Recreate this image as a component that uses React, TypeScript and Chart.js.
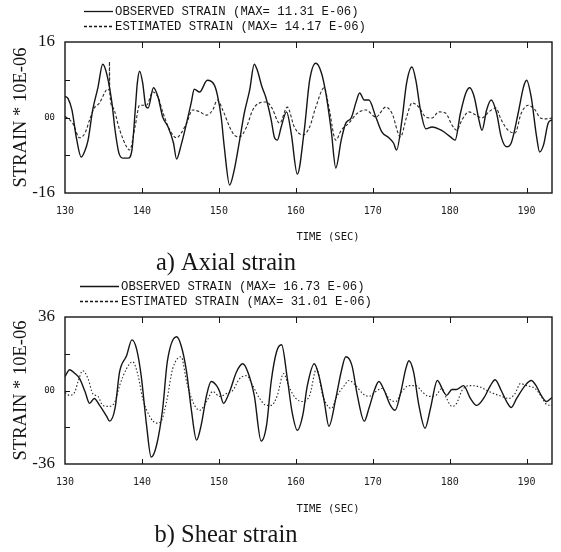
import React, { useEffect, useRef } from "react";
import { Chart, registerables } from "chart.js";

Chart.register(...registerables);

// ---------- data ----------
const timeTicks = [130, 140, 150, 160, 170, 180, 190];
const timeMin = 130;
const timeMax = 193.3;

const axialObservedTime = [130.0, 130.4, 130.9, 131.5, 132.1, 132.6, 133.0, 133.6, 134.3, 134.9, 135.4, 136.1, 136.5, 137.0, 137.5, 138.2, 138.7, 139.1, 139.4, 139.7, 140.1, 140.5, 140.8, 141.5, 142.1, 142.7, 143.4, 144.1, 144.5, 145.1, 145.8, 146.4, 146.8, 147.5, 148.5, 149.4, 149.8, 150.3, 150.7, 151.4, 152.0, 152.7, 153.3, 154.0, 154.6, 155.0, 155.6, 156.1, 156.8, 157.2, 157.6, 158.1, 158.8, 159.4, 160.2, 161.1, 161.8, 162.6, 163.3, 163.9, 164.6, 165.2, 165.9, 166.5, 167.2, 167.8, 168.3, 168.9, 169.5, 170.4, 171.2, 172.1, 172.7, 173.1, 173.8, 174.4, 175.1, 175.6, 176.2, 176.9, 177.7, 178.9, 180.1, 180.7, 181.4, 182.1, 182.6, 183.2, 183.8, 184.2, 184.8, 185.4, 186.1, 186.7, 187.4, 188.0, 188.9, 189.6, 190.0, 190.6, 191.3, 191.7, 192.2, 192.8, 193.3];
const axialObservedStrain = [4.5, 4.0, 1.6, -4.5, -8.4, -7.0, -4.8, 1.6, 6.5, 11.3, 9.4, 3.1, -2.6, -7.5, -8.6, -8.6, -6.9, 0.9, 7.3, 9.8, 7.3, 2.4, 2.0, 6.3, 4.3, 0.1, -2.0, -5.4, -8.8, -5.8, -1.2, 3.1, 6.0, 5.4, 7.9, 6.9, 4.8, 0.1, -6.2, -14.3, -11.1, -4.8, 0.9, 5.8, 11.3, 10.0, 6.5, 4.3, -0.5, -4.1, -4.8, -2.0, 1.2, -3.3, -12.0, -2.7, 7.9, 11.5, 9.6, 5.2, -2.7, -10.7, -4.8, -1.2, -0.1, 3.1, 5.2, 3.7, 3.7, 0.1, -3.1, -4.3, -5.4, -6.9, -0.5, 7.3, 10.7, 7.9, 1.6, -2.4, -2.0, -2.7, -4.1, -4.8, 0.9, 5.2, 6.3, 4.3, -0.5, -2.7, 1.6, 3.7, 0.9, -4.1, -6.2, -5.4, 0.9, 6.5, 7.9, 4.3, -4.1, -7.3, -5.8, -1.2, -0.5];

const axialEstimatedTime = [130.0, 130.3, 131.0, 131.9, 132.6, 133.2, 133.8, 134.5, 135.2, 135.5, 135.75, 135.78, 135.81, 136.2, 137.1, 138.0, 138.4, 139.1, 139.7, 140.6, 141.4, 142.1, 142.7, 143.6, 144.5, 145.1, 145.8, 146.6, 147.5, 148.4, 149.2, 149.8, 150.5, 151.4, 152.0, 152.7, 153.6, 154.4, 155.3, 156.2, 156.9, 157.9, 158.9, 159.8, 160.9, 161.8, 162.6, 163.7, 164.3, 165.2, 165.9, 166.9, 168.0, 169.1, 170.4, 171.7, 172.5, 173.6, 174.4, 175.1, 176.0, 176.9, 177.7, 178.6, 179.5, 180.3, 180.9, 181.6, 182.5, 183.4, 184.2, 185.1, 186.0, 186.7, 187.6, 188.5, 189.3, 190.2, 191.1, 191.8, 192.5, 193.3];
const axialEstimatedStrain = [0.2, -0.1, -1.2, -4.3, -3.3, -0.5, 2.0, 3.1, 5.4, 6.0, 5.8, 11.8, 5.6, 2.2, -2.6, -6.2, -6.9, -2.0, 2.6, 2.6, 5.4, 4.3, 1.2, -2.6, -4.3, -3.3, -1.2, 1.6, 1.2, 0.5, 1.6, 3.7, 1.6, -2.0, -3.7, -4.1, -2.0, 1.6, 3.1, 3.3, 2.0, -1.2, 2.2, -2.0, -3.7, -2.0, 2.2, 6.3, 2.2, -4.8, -2.7, -1.2, 0.9, 1.6, 0.1, 2.2, 0.9, -4.1, 0.1, 3.1, 2.2, 0.1, -0.1, 1.2, 0.9, -1.6, -2.7, -0.5, 1.2, 0.5, -0.1, 1.2, 2.0, -0.5, -2.7, -3.3, 0.9, 2.6, 1.6, -0.1, -0.3, -0.1];

const shearObservedTime = [130.0, 130.6, 131.3, 131.9, 132.6, 133.2, 133.8, 134.5, 135.4, 135.8, 136.5, 137.1, 138.0, 138.7, 139.3, 139.9, 140.6, 141.2, 141.9, 142.7, 143.3, 144.5, 145.1, 145.8, 146.4, 147.1, 147.7, 148.4, 149.0, 149.7, 150.1, 150.6, 151.4, 152.3, 153.1, 153.7, 154.6, 155.5, 156.2, 156.8, 157.5, 158.15, 158.9, 159.5, 160.2, 160.9, 161.5, 162.4, 163.0, 163.7, 164.3, 165.2, 165.9, 166.5, 167.3, 168.0, 168.9, 169.5, 170.3, 170.8, 171.5, 172.3, 172.9, 173.6, 174.3, 174.7, 175.3, 176.0, 176.8, 177.5, 178.4, 179.2, 179.6, 180.3, 180.9, 181.8, 182.7, 183.5, 184.4, 185.3, 185.9, 186.7, 187.4, 188.0, 188.7, 189.8, 190.6, 191.3, 191.9, 192.6, 193.3];
const shearObservedStrain = [6.8, 10.2, 8.3, 5.8, -0.5, -6.3, -3.9, -7.3, -12.6, -15.0, -8.8, 9.2, 17.0, 24.8, 20.4, 7.3, -17.0, -32.6, -26.8, -8.8, 14.1, 26.3, 21.9, 9.2, -8.8, -24.3, -17.0, -2.4, 4.4, 2.4, -0.5, -6.3, -0.5, 9.2, 13.1, 9.7, -2.4, -24.8, -17.0, 4.4, 19.0, 22.4, 5.8, -10.2, -19.5, -12.2, 2.4, 13.1, 7.3, -5.4, -17.5, -3.9, 9.2, 16.5, 12.2, -2.4, -15.0, -8.8, 1.0, 4.4, 0.0, -7.3, -9.7, -1.5, 10.7, 14.6, 9.2, -7.3, -18.5, -8.8, 4.9, -0.5, -2.4, 0.5, 0.5, 2.4, -3.9, -7.3, -3.9, 2.4, 5.3, 0.0, -5.4, -8.3, -3.9, 2.4, 4.9, 1.9, -2.4, -5.4, -3.4];

const shearEstimatedTime = [130.0, 130.6, 131.3, 131.7, 132.3, 133.0, 133.6, 134.3, 134.9, 135.8, 136.5, 137.1, 138.0, 138.8, 139.5, 140.1, 141.0, 141.9, 142.5, 143.2, 144.0, 145.1, 145.8, 146.6, 147.5, 148.4, 149.2, 150.1, 151.0, 151.8, 152.7, 153.6, 154.4, 155.3, 156.2, 156.8, 157.6, 158.4, 159.1, 160.0, 160.9, 161.8, 162.7, 163.5, 164.6, 165.4, 166.3, 166.9, 167.8, 168.7, 169.5, 170.4, 171.2, 172.1, 173.0, 173.8, 174.7, 175.6, 176.4, 177.3, 178.2, 179.0, 179.6, 180.3, 180.9, 181.6, 182.5, 183.8, 185.1, 186.4, 187.7, 188.5, 189.2, 190.0, 191.1, 191.9, 192.6, 193.3];
const shearEstimatedStrain = [-1.0, -2.4, -0.5, 4.4, 9.7, 5.8, -1.5, -2.9, -7.3, -7.8, -5.4, 2.4, 10.7, 14.1, 7.3, -3.9, -12.6, -16.0, -15.0, -5.4, 10.7, 16.5, 4.4, -5.4, -9.7, -5.4, -0.5, -2.9, -1.5, 0.0, 5.8, 7.3, 2.4, -3.9, -7.3, -7.3, -2.4, 8.3, 1.9, -3.9, -5.4, -2.4, 10.7, -2.4, -8.8, -2.4, 2.4, 4.9, 2.4, -1.5, -2.9, -0.5, 1.0, -3.9, -5.4, -0.5, 2.4, 2.4, -0.5, -2.9, -2.4, 1.0, -3.9, -7.8, -6.3, 0.0, 2.4, 1.9, -0.5, -2.4, -3.9, -1.5, 3.4, 2.4, 1.0, -2.9, -6.8, -7.3];

const axialLegend = ["OBSERVED STRAIN (MAX= 11.31 E-06)", "ESTIMATED STRAIN (MAX= 14.17 E-06)"];
const shearLegend = ["OBSERVED STRAIN (MAX= 16.73 E-06)", "ESTIMATED STRAIN (MAX= 31.01 E-06)"];
const axialLimit = 16;
const shearLimit = 36;
const axialCaption = "a) Axial strain";
const shearCaption = "b) Shear strain";
const timeTitle = "TIME (SEC)";
const strainTitle = "STRAIN * 10E-06";

const INK = "#151515";

const framePlugin = {
  id: "frame",
  afterDatasetsDraw(chart: any, _args: any, opts: any) {
    const { ctx, chartArea: a, scales } = chart;
    const x = scales.x;
    const y = scales.y;
    ctx.save();
    ctx.strokeStyle = INK;
    ctx.lineWidth = 1.4;
    ctx.strokeRect(a.left, a.top, a.right - a.left, a.bottom - a.top);
    ctx.lineWidth = 1;
    ctx.beginPath();
    for (const t of x.ticks) {
      if (t.value <= timeMin) continue;
      const px = Math.round(x.getPixelForValue(t.value)) + 0.5;
      ctx.moveTo(px, a.bottom);
      ctx.lineTo(px, a.bottom - 5);
      ctx.moveTo(px, a.top);
      ctx.lineTo(px, a.top + 6);
    }
    for (const t of y.ticks) {
      if (Math.abs(t.value) >= opts.limit) continue;
      const py = Math.round(y.getPixelForValue(t.value)) + 0.5;
      ctx.moveTo(a.left, py);
      ctx.lineTo(a.left + 5, py);
    }
    ctx.stroke();
    ctx.restore();
  },
  afterDraw(chart: any, _args: any, opts: any) {
    const { ctx, chartArea: a } = chart;
    ctx.save();
    ctx.fillStyle = INK;
    ctx.strokeStyle = INK;
    // legend
    const rows = [a.top - 31, a.top - 16];
    rows.forEach((ry: number, i: number) => {
      ctx.lineWidth = 1.3;
      ctx.setLineDash(i === 0 ? [] : [3, 2]);
      ctx.beginPath();
      ctx.moveTo(opts.lineX0, ry + 0.5);
      ctx.lineTo(opts.lineX1, ry + 0.5);
      ctx.stroke();
      ctx.setLineDash([]);
      ctx.font = "12.3px 'Liberation Mono'";
      ctx.textAlign = "left";
      ctx.textBaseline = "middle";
      ctx.fillText(opts.legend[i], opts.textX, ry + 1);
    });
    // axis title
    ctx.font = "10.5px 'DejaVu Sans Mono'";
    ctx.textAlign = "center";
    ctx.textBaseline = "middle";
    ctx.fillText(timeTitle, opts.timeX, opts.timeY);
    // caption
    ctx.font = "24.5px 'Liberation Serif'";
    ctx.fillText(opts.caption, opts.captionX, opts.captionY);
    ctx.restore();
  },
};

type PanelProps = {
  top: number;
  obsT: number[];
  obsV: number[];
  estT: number[];
  estV: number[];
  limit: number;
  legend: string[];
  caption: string;
  dash: number[];
  lineX0: number;
  lineX1: number;
  textX: number;
  padBottom: number;
  timeY: number;
  captionY: number;
};

function StrainPanel(p: PanelProps) {
  const ref = useRef<HTMLCanvasElement | null>(null);
  useEffect(() => {
    if (!ref.current) return;
    const limit = p.limit;
    const chart = new Chart(ref.current, {
      type: "line",
      data: {
        datasets: [
          {
            label: p.legend[0],
            data: p.obsT.map((t, i) => ({ x: t, y: p.obsV[i] })),
            borderColor: INK,
            borderWidth: 1.4,
            pointRadius: 0,
            cubicInterpolationMode: "monotone",
            fill: false,
          },
          {
            label: p.legend[1],
            data: p.estT.map((t, i) => ({ x: t, y: p.estV[i] })),
            borderColor: "#2a2a2a",
            borderWidth: 1.1,
            borderDash: p.dash,
            pointRadius: 0,
            cubicInterpolationMode: "monotone",
            fill: false,
          },
        ],
      },
      options: {
        responsive: false,
        animation: false,
        events: [],
        layout: { padding: { top: 42, right: 9, bottom: p.padBottom, left: 0 } },
        plugins: {
          legend: { display: false },
          tooltip: { enabled: false },
          frame: {
            limit,
            legend: p.legend,
            caption: p.caption,
            lineX0: p.lineX0,
            lineX1: p.lineX1,
            textX: p.textX,
            timeX: 328,
            timeY: p.timeY,
            captionX: 226,
            captionY: p.captionY,
          },
        } as any,
        scales: {
          x: {
            type: "linear",
            min: timeMin,
            max: timeMax,
            afterBuildTicks: (s: any) => {
              s.ticks = timeTicks.map((v) => ({ value: v }));
            },
            afterFit: (s: any) => {
              s.height = 50;
            },
            grid: { display: false, drawTicks: false },
            border: { display: false },
            ticks: {
              padding: 12,
              color: "#222",
              font: { family: "'DejaVu Sans Mono'", size: 10 },
              callback: (v: any) => String(v),
            },
          },
          y: {
            type: "linear",
            min: -limit,
            max: limit,
            afterBuildTicks: (s: any) => {
              s.ticks = [-limit, -limit / 2, 0, limit / 2, limit].map((v) => ({ value: v }));
            },
            afterFit: (s: any) => {
              s.width = 65;
            },
            grid: { display: false, drawTicks: false },
            border: { display: false },
            ticks: {
              padding: 10,
              color: INK,
              font: (c: any) =>
                c.tick && c.tick.value === 0
                  ? { family: "'DejaVu Sans Mono'", size: 9 }
                  : { family: "'Liberation Serif'", size: 17 },
              callback: (v: any) => (v === 0 ? "00" : Math.abs(v) === limit ? String(v) : ""),
            },
            title: {
              display: true,
              text: strainTitle,
              color: INK,
              font: { family: "'Liberation Serif'", size: 18.5 },
              padding: { top: 10, bottom: 0 },
            },
          },
        },
      } as any,
      plugins: [framePlugin as any],
    });
    return () => chart.destroy();
  }, []);
  return (
    <canvas
      ref={ref}
      width={561}
      height={276}
      style={{ position: "absolute", left: 0, top: p.top, width: 561, height: 276, display: "block" }}
    />
  );
}

export default function App() {
  return (
    <div style={{ position: "absolute", left: 0, top: 0, width: 561, height: 552, background: "#fff", overflow: "hidden" }}>
      <StrainPanel
        top={0}
        obsT={axialObservedTime}
        obsV={axialObservedStrain}
        estT={axialEstimatedTime}
        estV={axialEstimatedStrain}
        limit={axialLimit}
        legend={axialLegend}
        caption={axialCaption}
        dash={[3, 2]}
        lineX0={84}
        lineX1={113}
        textX={115}
        padBottom={33}
        timeY={237}
        captionY={264}
      />
      <StrainPanel
        top={275}
        obsT={shearObservedTime}
        obsV={shearObservedStrain}
        estT={shearEstimatedTime}
        estV={shearEstimatedStrain}
        limit={shearLimit}
        legend={shearLegend}
        caption={shearCaption}
        dash={[1.5, 2]}
        lineX0={80}
        lineX1={119}
        textX={121}
        padBottom={37}
        timeY={234}
        captionY={261}
      />
    </div>
  );
}
